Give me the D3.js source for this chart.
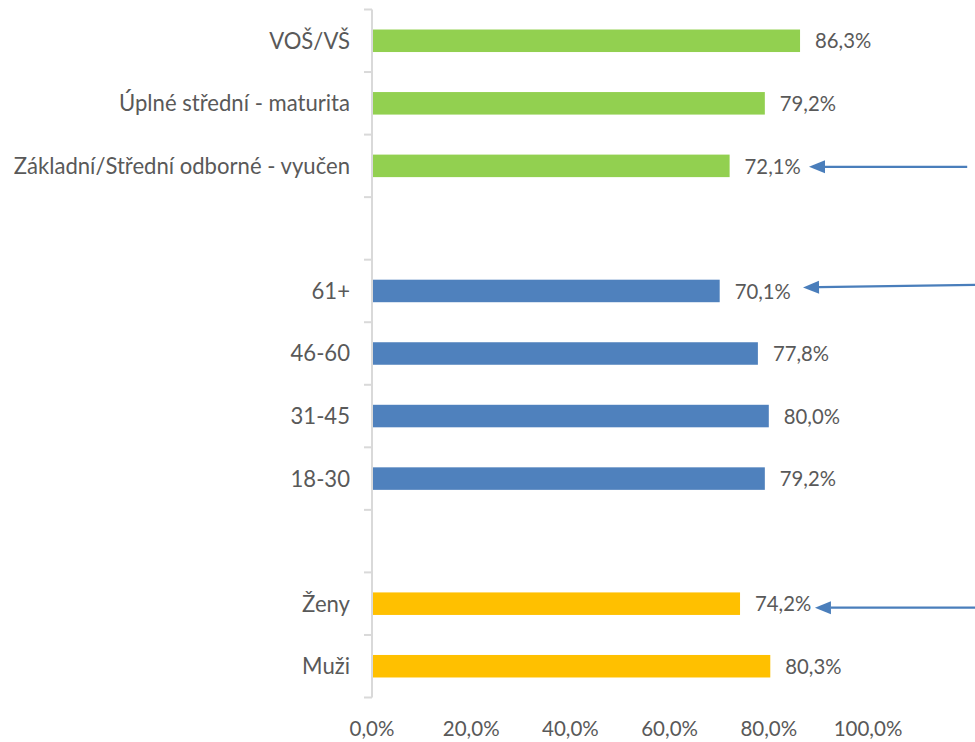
<!DOCTYPE html>
<html><head><meta charset="utf-8">
<script src="https://cdn.jsdelivr.net/npm/d3@7"></script>
<style>
html,body{margin:0;padding:0;background:#fff;}
svg text{font-family:Lato,"Open Sans",sans-serif;fill:#595959;}
</style></head>
<body>
<svg id="chart" width="975" height="742"></svg>
<script>
// ---- data ----
const categories = ["VOŠ/VŠ","Úplné střední - maturita","Základní/Střední odborné - vyučen","",
  "61+","46-60","31-45","18-30","","Ženy","Muži"];
const values = [86.3, 79.2, 72.1, null, 70.1, 77.8, 80.0, 79.2, null, 74.2, 80.3];
const groups = ["edu","edu","edu",null,"age","age","age","age",null,"sex","sex"];
const groupColors = {edu:"#92D050", age:"#4F81BD", sex:"#FFC000"};
const xTicks = [0, 20, 40, 60, 80, 100];
// annotation arrows: target category, tip & tail in value units
const arrowTargets = ["Základní/Střední odborné - vyučen","61+","Ženy"];
const arrowTips = [88.1, 86.9, 89.3];
const arrowTails = [120, 121.6, 121.6];
const arrowTipDy = [1, -3.5, 4];
const arrowTailDy = [1, -6, 4];

const svg = d3.select("#chart");
const x = d3.scaleLinear().domain([0,100]).range([372,868]);
const ids = categories.map((c,i)=>i);
const y = d3.scaleBand().domain(ids).range([9.5,697.5]).paddingInner(0.64).paddingOuter(0.32);
const fmt = v => d3.format(".1f")(v).replace(".",",") + "%";

// y axis
const yAxis = svg.append("g").attr("transform","translate(372,0)");
yAxis.append("line").attr("x1",0).attr("x2",0).attr("y1",9.5).attr("y2",697.5)
  .attr("stroke","#D9D9D9").attr("stroke-width",2);
const tickYs = d3.range(categories.length+1).map(i=>9.5 + i*y.step());
yAxis.selectAll("line.tk").data(tickYs).join("line").attr("class","tk")
  .attr("x1",-8).attr("x2",0).attr("y1",d=>d).attr("y2",d=>d)
  .attr("stroke","#D9D9D9").attr("stroke-width",2);
yAxis.selectAll("text").data(ids.filter(i=>categories[i])).join("text")
  .attr("x",-22).attr("y",i=>y(i)+y.bandwidth()/2).attr("dy","0.36em")
  .attr("text-anchor","end").style("font-size","22.1px").text(i=>categories[i]);

// x tick labels
svg.append("g").selectAll("text").data(xTicks).join("text")
  .attr("x",d=>x(d)).attr("y",729).attr("dy","0.36em").attr("text-anchor","middle")
  .style("font-size","20.5px").text(d=>fmt(d));

// bars
const barIds = ids.filter(i=>values[i]!=null);
svg.append("g").selectAll("rect").data(barIds).join("rect")
  .attr("x",x(0)+1).attr("y",i=>y(i)).attr("height",y.bandwidth())
  .attr("width",i=>x(values[i])-x(0)-1).attr("fill",i=>groupColors[groups[i]]);

// value labels
svg.append("g").selectAll("text").data(barIds).join("text")
  .attr("x",i=>x(values[i])+15).attr("y",i=>y(i)+y.bandwidth()/2).attr("dy","0.38em")
  .style("font-size","20.3px").text(i=>fmt(values[i]));

// arrows
const ag = svg.append("g");
arrowTargets.forEach((cat,k)=>{
  const i = categories.indexOf(cat);
  const cy = y(i)+y.bandwidth()/2;
  const tx = x(arrowTips[k]), ty = cy+arrowTipDy[k];
  const sx = x(arrowTails[k]), sy = cy+arrowTailDy[k];
  const ang = Math.atan2(sy-ty, sx-tx);
  const L = 16, W = 6.5;
  const bx = tx + L*Math.cos(ang), by = ty + L*Math.sin(ang);
  ag.append("line").attr("x1",sx).attr("y1",sy).attr("x2",bx).attr("y2",by)
    .attr("stroke","#4A7EBB").attr("stroke-width",2.2);
  const px = -Math.sin(ang), py = Math.cos(ang);
  ag.append("polygon").attr("points",[[tx,ty],[bx+px*W,by+py*W],[bx-px*W,by-py*W]].map(p=>p.join(",")).join(" "))
    .attr("fill","#4A7EBB");
});
</script>
</body></html>
